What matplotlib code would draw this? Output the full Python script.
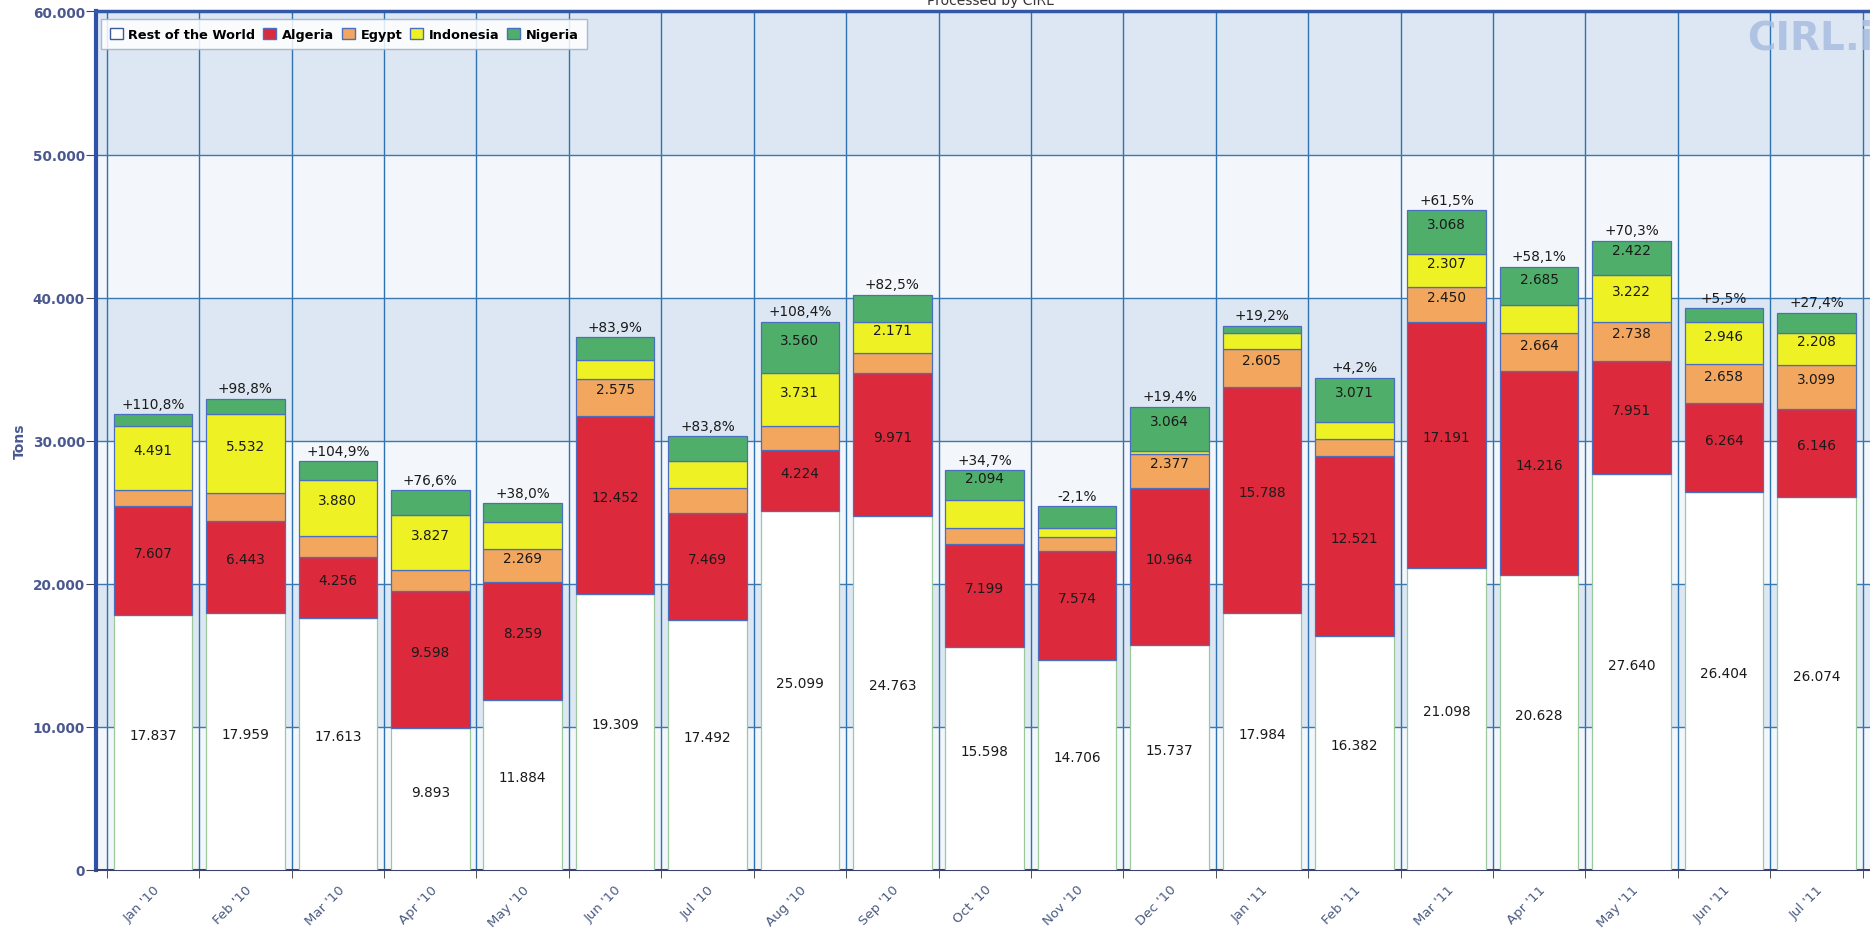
import numpy as np
import matplotlib.pyplot as plt
from matplotlib.patches import Patch

months = ["Jan '10", "Feb '10", "Mar '10", "Apr '10", "May '10", "Jun '10", "Jul '10",
          "Aug '10", "Sep '10", "Oct '10", "Nov '10", "Dec '10", "Jan '11", "Feb '11",
          "Mar '11", "Apr '11", "May '11", "Jun '11", "Jul '11"]

rest = [17837, 17959, 17613, 9893, 11884, 19309, 17492, 25099, 24763, 15598,
        14706, 15737, 17984, 16382, 21098, 20628, 27640, 26404, 26074]
algeria = [7607, 6443, 4256, 9598, 8259, 12452, 7469, 4224, 9971, 7199,
           7574, 10964, 15788, 12521, 17191, 14216, 7951, 6264, 6146]
egypt = [1100, 1950, 1500, 1480, 2269, 2575, 1750, 1700, 1400, 1100,
         1000, 2377, 2605, 1230, 2450, 2664, 2738, 2658, 3099]
indonesia = [4491, 5532, 3880, 3827, 1900, 1300, 1850, 3731, 2171, 1950,
             650, 230, 1150, 1200, 2307, 1950, 3222, 2946, 2208]
nigeria = [800, 1050, 1300, 1750, 1300, 1600, 1750, 3560, 1900, 2094,
           1500, 3064, 500, 3071, 3068, 2685, 2422, 1000, 1400]
change = ["+110,8%", "+98,8%", "+104,9%", "+76,6%", "+38,0%", "+83,9%", "+83,8%",
          "+108,4%", "+82,5%", "+34,7%", "-2,1%", "+19,4%", "+19,2%", "+4,2%",
          "+61,5%", "+58,1%", "+70,3%", "+5,5%", "+27,4%"]

series = [("Rest of the World", rest, "#ffffff"),
          ("Algeria", algeria, "#dc2a3c"),
          ("Egypt", egypt, "#f2a65e"),
          ("Indonesia", indonesia, "#eef224"),
          ("Nigeria", nigeria, "#4fae6a")]

W, H = 1870, 929
fig = plt.figure(figsize=(W / 100, H / 100), dpi=100)
ax = fig.add_axes([96 / W, 58 / H, 1 - 96 / W, (871 - 12.4) / H])

x = np.arange(len(months))
ax.set_xlim(-0.617, 18.58)
ax.set_ylim(0, 60000)

# alternating bands
for k in range(6):
    c = "#dce7f3" if k % 2 == 1 else "#f3f7fc"
    ax.axhspan(k * 10000, (k + 1) * 10000, color=c, zorder=0, lw=0)

ax.set_yticks(range(0, 60001, 10000))
ax.set_yticklabels(["0"] + [f"{v:,}".replace(",", ".") for v in range(10000, 60001, 10000)])
ax.yaxis.grid(True, color="#3a78b0", lw=1, zorder=1)
ax.set_xticks(np.arange(-0.5, 19, 1), minor=True)
ax.xaxis.grid(True, which="minor", color="#2f72b0", lw=1, zorder=1)
ax.set_axisbelow(True)

bottom = np.zeros(len(months))
for name, vals, col in series:
    vals = np.array(vals, dtype=float)
    ec = "#9cc99c" if col == "#ffffff" else "#4a6fc0"
    ax.bar(x, vals, 0.85, bottom=bottom, color=col, edgecolor=ec, linewidth=0.9, zorder=3)
    for i, v in enumerate(vals):
        if v > 2050:
            ax.annotate(f"{int(v):,}".replace(",", "."), (x[i], bottom[i] + v / 2),
                        xytext=(0, 5.5), textcoords="offset points", ha="center",
                        va="center", fontsize=9.8, color="#1a1a1a", zorder=5)
    bottom += vals

for i, t in enumerate(change):
    ax.annotate(t, (x[i], bottom[i]), xytext=(0, 2.5), textcoords="offset points",
                ha="center", va="bottom", fontsize=9.8, color="#1a1a1a", zorder=5)

ax.set_xticks(x)
ax.set_xticklabels(months, rotation=45, ha="right", rotation_mode="anchor",
                   fontsize=9.5, color="#4a5a80")
ax.tick_params(axis="x", which="major", length=0, pad=9)
ax.tick_params(axis="x", which="minor", length=6, color="#333", direction="out")
ax.tick_params(axis="y", length=7, color="#444", pad=1, labelsize=9.8, labelcolor="#4a5890")
for lbl in ax.get_yticklabels():
    lbl.set_fontweight("bold")

ax.spines["left"].set_color("#2f52a8")
ax.spines["left"].set_linewidth(3)
ax.spines["top"].set_color("#3358a8")
ax.spines["top"].set_linewidth(2.5)
ax.spines["bottom"].set_color("#3a3f6e")
ax.spines["bottom"].set_linewidth(1.5)
ax.spines["right"].set_visible(False)

handles = [Patch(facecolor=c, edgecolor="#3a5a9a" if c == "#ffffff" else "#4a6fc0",
                 label=n) for n, _, c in series]
leg = ax.legend(handles=handles, loc="upper left", bbox_to_anchor=(0.003, 0.991),
                ncol=5, borderaxespad=0, fancybox=False, framealpha=0.85,
                edgecolor="#9fb0c8", handlelength=1.0, handleheight=1.0,
                handletextpad=0.45, columnspacing=0.6, borderpad=0.65,
                prop={"size": 9.3, "weight": "bold"})
leg.get_frame().set_linewidth(1)
leg.set_zorder(6)

fig.text(20 / W, 1 - 441 / H, "Tons", rotation=90, ha="center", va="center",
         fontsize=10, fontweight="bold", color="#4a5890")
fig.text(990 / W, 1 - 5 / H, "Processed by CIRL", ha="center", va="baseline",
         fontsize=10, color="#333333")
fig.text(1747 / W, 1 - 38 / H, "CIRL.it", ha="left", va="center", fontsize=28,
         fontweight="bold", color="#a9bde0", alpha=0.85)

fig.savefig("out.png", dpi=100, facecolor="white")
